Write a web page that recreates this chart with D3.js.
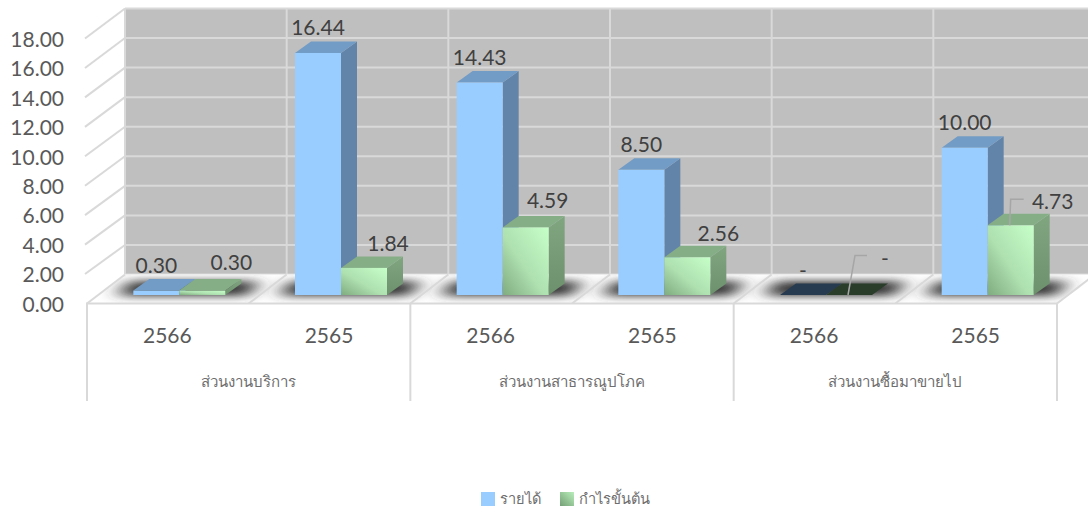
<!DOCTYPE html>
<html>
<head>
<meta charset="utf-8">
<script src="https://cdn.jsdelivr.net/npm/d3@7"></script>
<style>
  html, body { margin: 0; padding: 0; background: #fff; }
  svg { display: block; }
  text { font-family: Lato, "Open Sans", "Noto Sans", sans-serif; }
</style>
</head>
<body>
<svg id="chart" width="1088" height="510"></svg>
<script>
// values
const years = ["2566", "2565", "2566", "2565", "2566", "2565"];
const groups = ["ส่วนงานบริการ", "ส่วนงานสาธารณูปโภค", "ส่วนงานซื้อมาขายไป"];
const seriesNames = ["รายได้", "กำไรขั้นต้น"];
const revenue = [0.30, 16.44, 14.43, 8.50, 0, 10.00];
const grossProfit = [0.30, 1.84, 4.59, 2.56, 0, 4.73];
const yTicks = [0, 2, 4, 6, 8, 10, 12, 14, 16, 18];

// the green labels were dragged by hand in the original: [dx, dy] from the bar top
const greenLabelShift = [[29, -29], [24, -25], [22, -28], [31, -25], [36, -38], [42, -25]];

const svg = d3.select("#chart");
const W = 1088;
const depth = { x: 38, y: -30 };     // whole floor depth
const barGap = { x: 11.5, y: -8 };   // front edge of floor to front of bar
const barDepth = { x: 16, y: -11.5 };

const x = d3.scaleBand().domain(d3.range(years.length)).range([87, 1057]);
const inner = d3.scaleBand().domain(seriesNames).range([-46, 46]);
const yBar = d3.scaleLinear().domain([0, 18]).range([295, 30]);
const yFront = d3.scaleLinear().domain([0, 18]).range([303.5, 38.5]);
const yWall = d3.scaleLinear().domain([0, 18]).range([274.5, 8.5]);

const poly = pts => pts.map(p => p.join(",")).join(" ");
const gridColor = "#d9d9d9";

const defs = svg.append("defs");
defs.append("filter").attr("id", "shadowBlur")
    .attr("x", "-30%").attr("y", "-150%").attr("width", "160%").attr("height", "400%")
  .append("feGaussianBlur").attr("stdDeviation", "10 4");
const greenGrad = defs.append("linearGradient").attr("id", "greenFront")
    .attr("x1", 0).attr("y1", 1).attr("x2", 1).attr("y2", 0);
greenGrad.append("stop").attr("offset", "0%").attr("stop-color", "#80ac80");
greenGrad.append("stop").attr("offset", "45%").attr("stop-color", "#aee0b0");
greenGrad.append("stop").attr("offset", "100%").attr("stop-color", "#c6ffc8");
const greenSide = defs.append("linearGradient").attr("id", "greenSide")
    .attr("x1", 0).attr("y1", 0).attr("x2", 0).attr("y2", 1);
greenSide.append("stop").attr("offset", "0%").attr("stop-color", "#80a680");
greenSide.append("stop").attr("offset", "100%").attr("stop-color", "#6d906d");
const legendGrad = defs.append("linearGradient").attr("id", "greenLegend")
    .attr("x1", 1).attr("y1", 0).attr("x2", 0).attr("y2", 1);
legendGrad.append("stop").attr("offset", "0%").attr("stop-color", "#b9eebb");
legendGrad.append("stop").attr("offset", "100%").attr("stop-color", "#74a076");
defs.append("clipPath").attr("id", "floorClip")
  .append("polygon").attr("points", poly([[87, 303.5], [125, 275], [1098, 275], [1057, 303.5]]));

// back wall
const wallLeft = x(0) + depth.x;
svg.append("rect")
    .attr("x", wallLeft).attr("y", yWall(18))
    .attr("width", W - wallLeft).attr("height", yWall(0) - yWall(18))
    .attr("fill", "#bfbfbf");

const grid = svg.append("g").attr("stroke", gridColor).attr("stroke-width", 2).attr("fill", "none");
grid.selectAll(".hline").data(yTicks).join("line")
    .attr("class", "hline")
    .attr("x1", wallLeft).attr("x2", W)
    .attr("y1", d => yWall(d)).attr("y2", d => yWall(d));
grid.selectAll(".diag").data(yTicks.slice(1)).join("line")
    .attr("class", "diag")
    .attr("x1", 85).attr("x2", wallLeft)
    .attr("y1", d => yFront(d)).attr("y2", d => yWall(d));
grid.selectAll(".vline").data(d3.range(years.length + 1)).join("line")
    .attr("class", "vline")
    .attr("x1", d => wallLeft + d * x.bandwidth()).attr("x2", d => wallLeft + d * x.bandwidth())
    .attr("y1", yWall(18)).attr("y2", yWall(0));

// floor
const floorPts = [[87, 303.5], [wallLeft, yWall(0)], [W + 10, yWall(0)], [1057, 303.5]];
svg.append("polygon").attr("points", poly(floorPts)).attr("fill", "#fff");

// shadows under each pair of bars
svg.append("g").attr("clip-path", "url(#floorClip)")
  .selectAll("polygon").data(d3.range(years.length)).join("polygon")
    .attr("points", i => {
        const cx = x(i) + x.bandwidth() / 2 + barGap.x;
        const b = yBar(0);
        return poly([
            [cx - 62, b + 1],
            [cx - 50, b - 14],
            [cx + 80, b - 14],
            [cx + 68, b + 1]
        ]);
    })
    .attr("fill", "#333")
    .attr("filter", "url(#shadowBlur)");

// floor lines on top of the shadows
const floorLines = svg.append("g").attr("stroke", gridColor).attr("stroke-width", 2).attr("fill", "none");
floorLines.selectAll("line").data(d3.range(1, years.length + 1)).join("line")
    .attr("x1", d => x(0) + d * x.bandwidth()).attr("y1", 303.5)
    .attr("x2", d => x(0) + d * x.bandwidth() + depth.x).attr("y2", yWall(0));
floorLines.append("line").attr("x1", 87).attr("y1", 303.5).attr("x2", wallLeft).attr("y2", yWall(0));
floorLines.append("line").attr("x1", 86).attr("y1", 303.5).attr("x2", 1057).attr("y2", 303.5);

// multi level category separators
floorLines.selectAll(".sep").data(d3.range(groups.length + 1)).join("line")
    .attr("class", "sep")
    .attr("x1", d => x(0) + d * 2 * x.bandwidth()).attr("x2", d => x(0) + d * 2 * x.bandwidth())
    .attr("y1", 303.5).attr("y2", 401);

// bars
const barStyles = [
    { name: seriesNames[0], values: revenue, front: "#99ccff", side: "#6384a9", top: "#729cc5", zeroTop: "#263a50" },
    { name: seriesNames[1], values: grossProfit, front: "url(#greenFront)", side: "url(#greenSide)", top: "#85ae86", zeroTop: "#2a3c2a" }
];

function barLeft(i, name) {
    return x(i) + x.bandwidth() / 2 + barGap.x + inner(name);
}

barStyles.forEach(s => {
    const g = svg.append("g").selectAll("g").data(s.values).join("g");
    const w = inner.bandwidth();
    g.append("polygon")
        .attr("points", (d, i) => {
            const l = barLeft(i, s.name) + w;
            return poly([[l, yBar(d)], [l + barDepth.x, yBar(d) + barDepth.y],
                [l + barDepth.x, yBar(0) + barDepth.y], [l, yBar(0)]]);
        })
        .attr("fill", s.side);
    g.append("polygon")
        .attr("points", (d, i) => {
            const l = barLeft(i, s.name);
            return poly([[l, yBar(d)], [l + w, yBar(d)],
                [l + w + barDepth.x, yBar(d) + barDepth.y], [l + barDepth.x, yBar(d) + barDepth.y]]);
        })
        .attr("fill", d => d === 0 ? s.zeroTop : s.top);
    g.append("rect")
        .attr("x", (d, i) => barLeft(i, s.name))
        .attr("y", d => yBar(d))
        .attr("width", w)
        .attr("height", d => yBar(0) - yBar(d))
        .attr("fill", s.front);
});

// leader lines for the two labels that were moved far from their bars
const leader = svg.append("g").attr("fill", "none").attr("stroke", "#a6a6a6").attr("stroke-width", 1.5);
const greenCentre = i => barLeft(i, seriesNames[1]) + inner.bandwidth() / 2;
[[4, -1, -39.5, 7, 12], [5, -1, -26, 1, 13]].forEach(([i, nudge, rise, lean, run]) => {
    const px = greenCentre(i) + nudge;
    const py = yBar(grossProfit[i]);
    leader.append("polyline").attr("points",
        poly([[px, py], [px + lean, py + rise], [px + lean + run, py + rise]]));
});

// data labels
const fmt = v => v === 0 ? "-" : d3.format(".2f")(v);
const labels = svg.append("g")
    .attr("font-size", 21).attr("fill", "#404040")
    .attr("text-anchor", "middle").attr("dominant-baseline", "central");
labels.selectAll(".rev").data(revenue).join("text")
    .attr("class", "rev")
    .attr("x", (d, i) => barLeft(i, seriesNames[0]) + inner.bandwidth() / 2)
    .attr("y", d => yBar(d) - 26)
    .text(fmt);
labels.selectAll(".gp").data(grossProfit).join("text")
    .attr("class", "gp")
    .attr("x", (d, i) => greenCentre(i) + greenLabelShift[i][0])
    .attr("y", (d, i) => yBar(d) + greenLabelShift[i][1])
    .text(fmt);

// value axis
const yAxis = d3.axisLeft(yFront).tickValues(yTicks).tickFormat(d3.format(".2f")).tickSize(0).tickPadding(0);
const axisG = svg.append("g").attr("transform", "translate(64,0)").call(yAxis);
axisG.select(".domain").remove();
axisG.selectAll("text")
    .attr("font-size", 21).attr("fill", "#595959").attr("dy", "0.37em")
    .style("font-family", 'Lato, "Open Sans", sans-serif');

// category labels
svg.append("g").selectAll("text").data(years).join("text")
    .attr("x", (d, i) => x(i) + x.bandwidth() / 2 - 0.5)
    .attr("y", 334.5)
    .attr("text-anchor", "middle").attr("dominant-baseline", "central")
    .attr("font-size", 21).attr("fill", "#595959")
    .text(d => d);
svg.append("g").selectAll("text").data(groups).join("text")
    .attr("x", (d, i) => x(i * 2) + x.bandwidth())
    .attr("y", 381)
    .attr("text-anchor", "middle").attr("dominant-baseline", "central")
    .attr("font-size", 15).attr("fill", "#6e6e6e")
    .text(d => d);

// legend
const legendItems = d3.zip(seriesNames, [481, 560], ["#99ccff", "url(#greenLegend)"]);
const legend = svg.append("g");
legend.selectAll("rect").data(legendItems).join("rect")
    .attr("x", d => d[1]).attr("y", 492)
    .attr("width", 14).attr("height", 14)
    .attr("fill", d => d[2]);
legend.selectAll("text").data(legendItems).join("text")
    .attr("x", d => d[1] + 19).attr("y", 498)
    .attr("dominant-baseline", "central")
    .attr("font-size", 14.6).attr("fill", "#6e6e6e")
    .text(d => d[0]);
</script>
</body>
</html>
